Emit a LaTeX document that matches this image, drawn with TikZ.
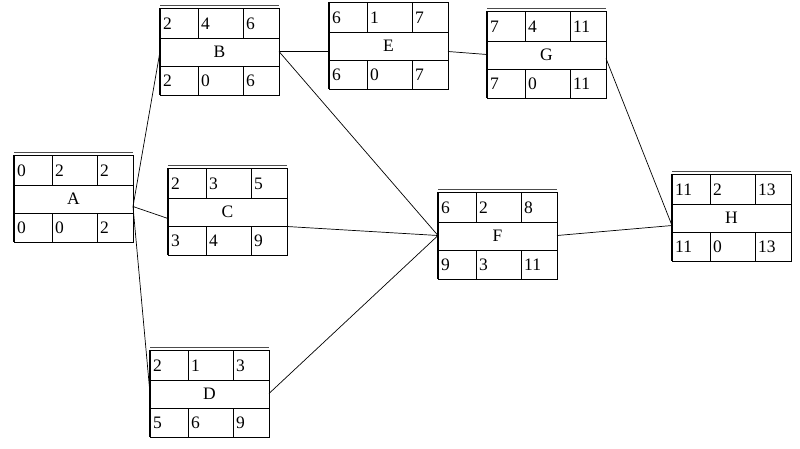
\documentclass[tikz,border=0pt]{standalone}
\usepackage{fontspec}
\setmainfont{Liberation Serif}
\tikzset{
  box/.style={draw, line width=0.7pt, minimum width=119pt, minimum height=87pt, inner sep=0pt, outer sep=0pt},
  grid/.style={line width=0.7pt},
  num/.style={anchor=west, inner sep=0pt, font=\fontsize{17.5}{19}\selectfont},
  lab/.style={inner sep=0pt, font=\fontsize{17.5}{19}\selectfont},
  link/.style={line width=0.7pt}
}
\newcommand\actbox[9]{%
  \node[box, anchor=north west] (#1) at (#2) {};
  \draw[grid] ([yshift=-30pt]#1.north west) -- ([yshift=-30pt]#1.north east);
  \draw[grid] ([yshift=29pt]#1.south west) -- ([yshift=29pt]#1.south east);
  \draw[grid] ([xshift=38pt]#1.north west) -- ([xshift=38pt,yshift=-30pt]#1.north west);
  \draw[grid] ([xshift=83pt]#1.north west) -- ([xshift=83pt,yshift=-30pt]#1.north west);
  \draw[grid] ([xshift=38pt]#1.south west) -- ([xshift=38pt,yshift=29pt]#1.south west);
  \draw[grid] ([xshift=83pt]#1.south west) -- ([xshift=83pt,yshift=29pt]#1.south west);
  \draw[line width=0.4pt, black!70] ([yshift=2.5pt]#1.north west) -- ([yshift=2.5pt]#1.north east);
  \draw[line width=1.5pt] (#1.north west) -- (#1.south west);
  \node[num] (#1-t1) at ([xshift=3pt,yshift=-15.5pt]#1.north west) {#3};
  \node[num] (#1-t2) at ([xshift=41pt,yshift=-15.5pt]#1.north west) {#4};
  \node[num] (#1-t3) at ([xshift=86pt,yshift=-15.5pt]#1.north west) {#5};
  \node[lab] (#1-l) at (#1.center) {#6};
  \node[num] (#1-b1) at ([xshift=3pt,yshift=14.5pt]#1.south west) {#7};
  \node[num] (#1-b2) at ([xshift=41pt,yshift=14.5pt]#1.south west) {#8};
  \node[num] (#1-b3) at ([xshift=86pt,yshift=14.5pt]#1.south west) {#9};
}
\begin{document}
\begin{tikzpicture}[x=1pt,y=-1pt]
\useasboundingbox[fill=white] (0,0) rectangle (800,448);
\actbox{A}{14,155}{0}{2}{2}{A}{0}{0}{2}
\actbox{B}{160,8}{2}{4}{6}{B}{2}{0}{6}
\actbox{C}{168,168}{2}{3}{5}{C}{3}{4}{9}
\actbox{D}{150,350}{2}{1}{3}{D}{5}{6}{9}
\actbox{E}{329,2}{6}{1}{7}{E}{6}{0}{7}
\actbox{F}{438,192}{6}{2}{8}{F}{9}{3}{11}
\actbox{G}{487,11}{7}{4}{11}{G}{7}{0}{11}
\actbox{H}{672,174}{11}{2}{13}{H}{11}{0}{13}
\draw[link] ([yshift=-8pt]A.east) -- (B.west);
\draw[link] ([yshift=-8pt]A.east) -- ([yshift=-7pt]C.west);
\draw[link] ([yshift=-8pt]A.east) -- (D.west);
\draw[link] (B.east) -- ([yshift=-6pt]E.west);
\draw[link] (B.east) -- (F.west);
\draw[link] ([yshift=-6pt]E.east) -- (G.west);
\draw[link] ([yshift=-15pt]C.east) -- (F.west);
\draw[link] (D.east) -- (F.west);
\draw[link] (F.east) -- ([yshift=-8pt]H.west);
\draw[link] ([yshift=-4pt]G.east) -- ([yshift=-8pt]H.west);
\end{tikzpicture}
\end{document}
